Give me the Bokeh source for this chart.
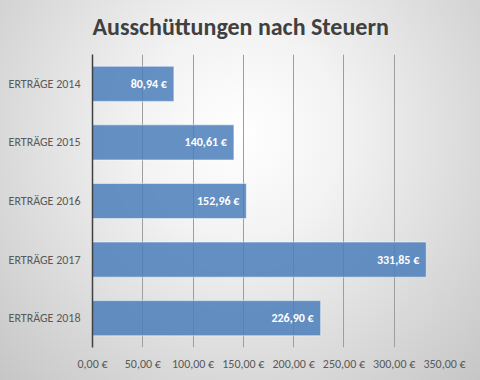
from bokeh.plotting import figure
from bokeh.models import Range1d, FixedTicker, GlobalInlineStyleSheet, ColumnDataSource
from bokeh.core.properties import value
from bokeh.embed import file_html
from bokeh.resources import INLINE

categories = ["ERTRÄGE 2014", "ERTRÄGE 2015", "ERTRÄGE 2016", "ERTRÄGE 2017", "ERTRÄGE 2018"]
values = [80.94, 140.61, 152.96, 331.85, 226.90]
x_ticks = [0, 50, 100, 150, 200, 250, 300, 350]
title_text = "Ausschüttungen nach Steuern"

def eur(v):
    return f"{v:.2f}".replace(".", ",") + " €"

labels = [eur(v) for v in values]
src = ColumnDataSource(dict(cat=categories, val=values, lab=labels))

FONT = "Carlito, Lato, sans-serif"

p = figure(width=480, height=380, y_range=list(reversed(categories)),
           x_range=Range1d(0, 350), output_backend="svg", toolbar_location=None,
           min_border_left=92, min_border_right=36, min_border_top=54, min_border_bottom=33)

p.background_fill_alpha = 0
p.border_fill_alpha = 0
p.outline_line_color = None

p.title.text = title_text
p.title.align = "left"
p.title.vertical_align = "top"
p.title.text_font = FONT
p.title.text_font_style = "bold"
p.title.text_font_size = "24px"
p.title.text_color = "#404040"
p.title.standoff = 23

p.hbar(y="cat", right="val", left=0, height=0.6, source=src,
       fill_color="#4a7ebb", fill_alpha=0.85, line_color="white", line_alpha=0.7, line_width=0.75)

p.text(x="val", y="cat", text="lab", source=src, text_align="right", text_baseline="middle",
       x_offset=-7, text_color="white", text_font=value(FONT), text_font_style="bold",
       text_font_size="12px")

ticker = FixedTicker(ticks=x_ticks)
p.xaxis.ticker = ticker
p.xaxis.major_label_overrides = {t: eur(t) for t in x_ticks}
p.xaxis.axis_line_color = None
p.xaxis.major_tick_line_color = None
p.xaxis.major_tick_out = 0
p.xaxis.major_tick_in = 0
p.xaxis.minor_tick_line_color = None
p.xaxis.major_label_text_font = FONT
p.xaxis.major_label_text_font_size = "12px"
p.xaxis.major_label_text_color = "#595959"
p.xaxis.major_label_standoff = 9

p.yaxis.axis_line_color = "#404040"
p.yaxis.axis_line_width = 1.5
p.yaxis.major_tick_line_color = None
p.yaxis.major_tick_out = 0
p.yaxis.major_tick_in = 0
p.yaxis.minor_tick_line_color = None
p.yaxis.major_label_text_font = FONT
p.yaxis.major_label_text_font_size = "12px"
p.yaxis.major_label_text_color = "#595959"
p.yaxis.major_label_standoff = 12

p.xgrid.ticker = ticker
p.xgrid.grid_line_color = "#9e9e9e"
p.xgrid.grid_line_width = 1
p.ygrid.grid_line_color = None

p.stylesheets = [GlobalInlineStyleSheet(css="html{min-height:100%;background:radial-gradient(ellipse farthest-corner at 50% 35%, #ffffff 0%, #f3f3f3 30%, #c6c6c6 100%);} body{background:transparent;}")]

open("out.html", "w").write(file_html(p, INLINE))
